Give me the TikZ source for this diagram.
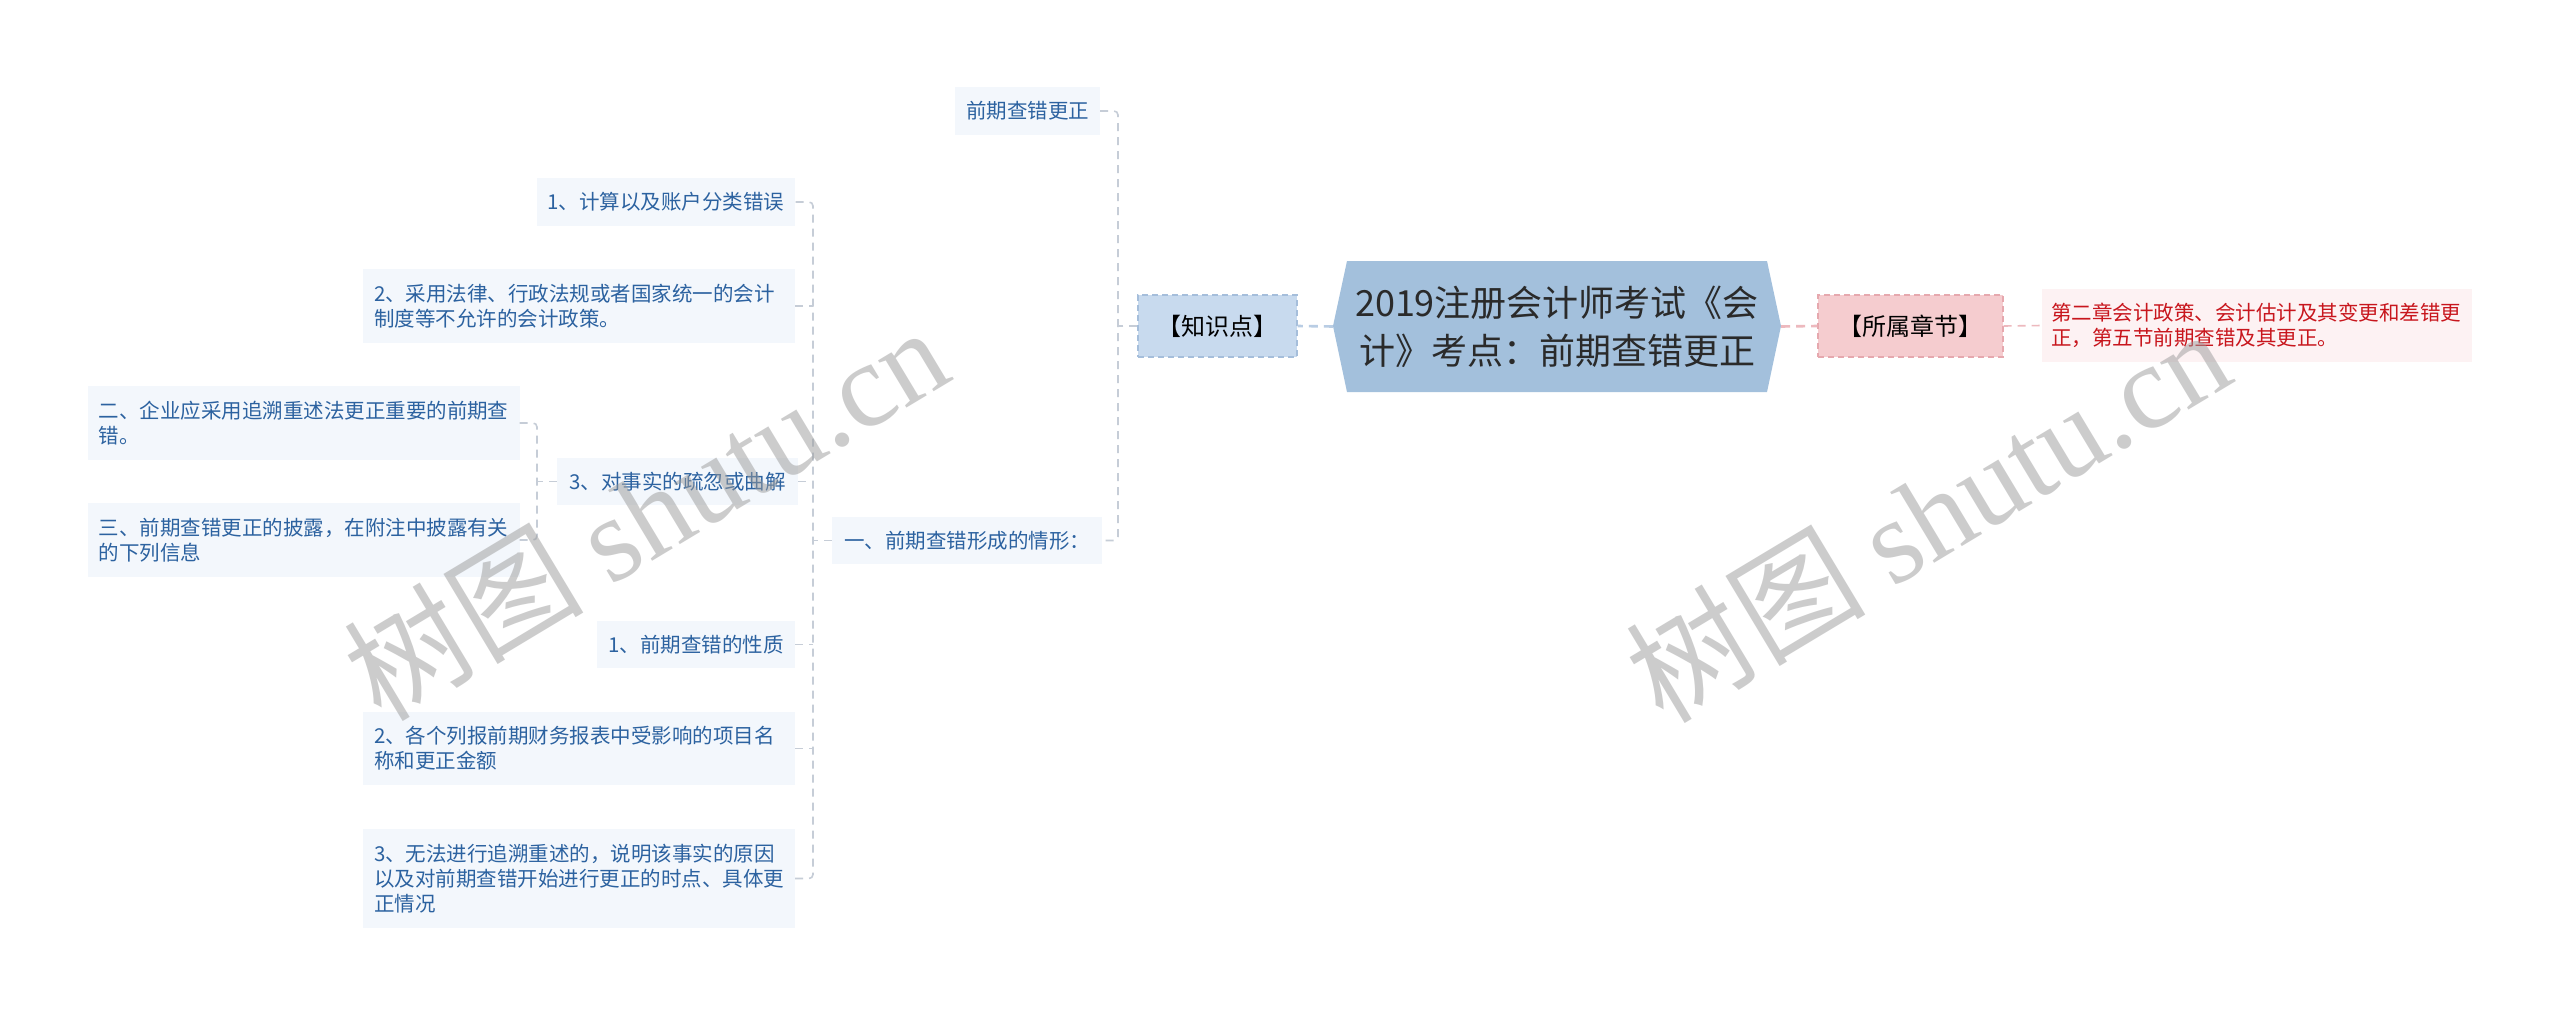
\documentclass[tikz,border=0pt]{standalone}
\usepackage{fontspec}
\setmainfont{Noto Sans CJK SC}
\newfontfamily\wmserif{Liberation Serif}
\definecolor{hexfill}{HTML}{A3C0DC}
\definecolor{hextext}{HTML}{2A2A2A}
\definecolor{zsdfill}{HTML}{C8DAEE}
\definecolor{zsdline}{HTML}{A5BEDB}
\definecolor{leaffill}{HTML}{F3F7FC}
\definecolor{leaftext}{HTML}{2C62A0}
\definecolor{conncol}{HTML}{C6CDD7}
\definecolor{blueconn}{HTML}{B9CDE4}
\definecolor{pinkfill}{HTML}{F5CCCF}
\definecolor{pinkline}{HTML}{E6A8AE}
\definecolor{pinkconn}{HTML}{EDB9BE}
\definecolor{redfill}{HTML}{FDF2F3}
\definecolor{redtext}{HTML}{C8161D}
\definecolor{wmcol}{HTML}{9A9A9A}
\tikzset{
  leaf/.style={fill=leaffill, text=leaftext, font=\fontsize{20.5}{25}\selectfont,
    inner xsep=11pt, inner ysep=0pt},
  wide/.style={leaf, text width=410pt, align=left},
  tag/.style={font=\fontsize{24}{28}\selectfont, text=black, line width=1.4pt,
    dash pattern=on 6pt off 4pt, inner sep=0pt},
  conn/.style={draw=conncol, line width=1.6pt, dash pattern=on 8pt off 6pt, rounded corners=4pt},
  wm/.style={font=\fontsize{120}{130}\selectfont, text=wmcol, opacity=0.5, inner sep=0pt}
}
\begin{document}
\begin{tikzpicture}[x=1pt,y=-1pt]
\useasboundingbox (0,0) rectangle (2560,1017);
\fill[white] (0,0) rectangle (2560,1017);
% centre hexagon
\fill[hexfill] (1333,326) -- (1347,261) -- (1767,261) -- (1781,326) -- (1767,392) -- (1347,392) -- cycle;
\node[font=\fontsize{36}{48}\selectfont, text=hextext, align=center, minimum width=448pt,
  minimum height=131pt, inner sep=0pt] (main) at (1557,326.5) {2019注册会计师考试《会\\计》考点：前期查错更正};
% tags
\node[tag, fill=zsdfill, draw=zsdline, minimum width=159pt, minimum height=62pt] (zsd) at (1217.5,326) {【知识点】};
\node[tag, fill=pinkfill, draw=pinkline, minimum width=185pt, minimum height=62pt] (ssz) at (1910.5,326) {【所属章节】};
\node[fill=redfill, text=redtext, font=\fontsize{20.5}{25}\selectfont, text width=412pt, align=left,
  inner xsep=9pt, inner ysep=0pt, minimum height=73pt] (chap) at (2257,325.5) {第二章会计政策、会计估计及其变更和差错更\\正，第五节前期查错及其更正。};
% left tree
\node[leaf, minimum width=145pt, minimum height=48pt] (qq) at (1027.5,111) {前期查错更正};
\node[leaf, minimum width=270pt, minimum height=47pt] (y1) at (967,540.5) {一、前期查错形成的情形：};
\node[leaf, minimum width=258pt, minimum height=48pt] (c1) at (666,202) {1、计算以及账户分类错误};
\node[wide, minimum height=74pt] (c2) at (579,306) {2、采用法律、行政法规或者国家统一的会计\\制度等不允许的会计政策。};
\node[leaf, minimum width=241pt, minimum height=47pt] (c3) at (677.5,481.5) {3、对事实的疏忽或曲解};
\node[leaf, minimum width=198pt, minimum height=47pt] (c4) at (696,644.5) {1、前期查错的性质};
\node[wide, minimum height=73pt] (c5) at (579,748.5) {2、各个列报前期财务报表中受影响的项目名\\称和更正金额};
\node[wide, minimum height=99pt] (c6) at (579,878.5) {3、无法进行追溯重述的，说明该事实的原因\\以及对前期查错开始进行更正的时点、具体更\\正情况};
\node[wide, minimum height=74pt] (d1) at (303.5,423) {二、企业应采用追溯重述法更正重要的前期查\\错。};
\node[wide, minimum height=74pt] (d2) at (303.5,540) {三、前期查错更正的披露，在附注中披露有关\\的下列信息};
% spine coordinates
\coordinate (sA) at (1118,0);
\coordinate (sB) at (813,0);
\coordinate (sC) at (537,0);
% connectors
\draw[draw=blueconn, line width=2.6pt, dash pattern=on 9pt off 6pt] (main.west) -- (zsd.east);
\draw[draw=pinkconn, line width=2.6pt, dash pattern=on 9pt off 6pt] (main.east) -- (ssz.west);
\draw[conn, draw=pinkconn] (ssz.east) -- (chap.west);
\draw[conn] (qq.east) -- (qq.east -| sA) -- (y1.east -| sA) -- (y1.east);
\draw[conn] (zsd.west) -- (zsd.west -| sA);
\draw[conn] (c1.east) -- (c1.east -| sB) -- (c6.east -| sB) -- (c6.east);
\draw[conn] (c2.east) -- (c2.east -| sB);
\draw[conn] (c3.east) -- (c3.east -| sB);
\draw[conn] (c4.east) -- (c4.east -| sB);
\draw[conn] (c5.east) -- (c5.east -| sB);
\draw[conn] (y1.west) -- (y1.west -| sB);
\draw[conn] (d1.east) -- (d1.east -| sC) -- (d2.east -| sC) -- (d2.east);
\draw[conn] (c3.west) -- (c3.west -| sC);
% watermarks
\node[wm, rotate=31] (wm1) at (645,512) {树图 {\wmserif shutu.cn}};
\node[wm, rotate=31] (wm2) at (1927,514) {树图 {\wmserif shutu.cn}};
\end{tikzpicture}
\end{document}
